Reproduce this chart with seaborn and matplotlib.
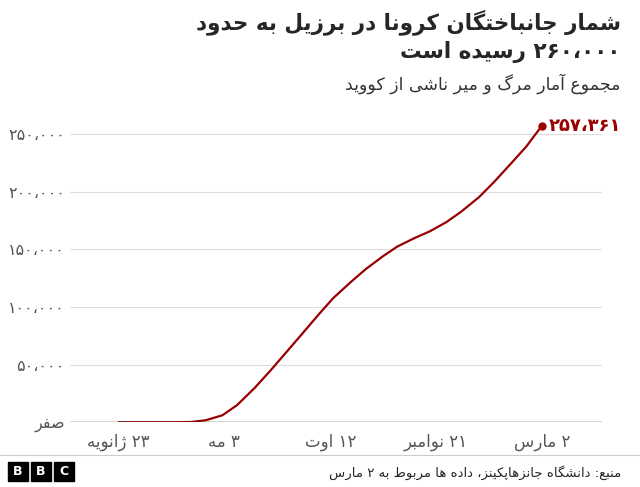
import matplotlib
matplotlib.use("Agg")
import matplotlib.pyplot as plt
import seaborn as sns
import pandas as pd

# ---- minimal Persian shaping + bidi ----
FORMS = {
 'ا':(0xFE8D,0xFE8E,None,None),'آ':(0xFE81,0xFE82,None,None),
 'ب':(0xFE8F,0xFE90,0xFE91,0xFE92),'پ':(0xFB56,0xFB57,0xFB58,0xFB59),
 'ت':(0xFE95,0xFE96,0xFE97,0xFE98),'ث':(0xFE99,0xFE9A,0xFE9B,0xFE9C),
 'ج':(0xFE9D,0xFE9E,0xFE9F,0xFEA0),'چ':(0xFB7A,0xFB7B,0xFB7C,0xFB7D),
 'ح':(0xFEA1,0xFEA2,0xFEA3,0xFEA4),'خ':(0xFEA5,0xFEA6,0xFEA7,0xFEA8),
 'د':(0xFEA9,0xFEAA,None,None),'ذ':(0xFEAB,0xFEAC,None,None),
 'ر':(0xFEAD,0xFEAE,None,None),'ز':(0xFEAF,0xFEB0,None,None),
 'ژ':(0xFB8A,0xFB8B,None,None),'س':(0xFEB1,0xFEB2,0xFEB3,0xFEB4),
 'ش':(0xFEB5,0xFEB6,0xFEB7,0xFEB8),'ص':(0xFEB9,0xFEBA,0xFEBB,0xFEBC),
 'ض':(0xFEBD,0xFEBE,0xFEBF,0xFEC0),'ط':(0xFEC1,0xFEC2,0xFEC3,0xFEC4),
 'ظ':(0xFEC5,0xFEC6,0xFEC7,0xFEC8),'ع':(0xFEC9,0xFECA,0xFECB,0xFECC),
 'غ':(0xFECD,0xFECE,0xFECF,0xFED0),'ف':(0xFED1,0xFED2,0xFED3,0xFED4),
 'ق':(0xFED5,0xFED6,0xFED7,0xFED8),'ک':(0xFB8E,0xFB8F,0xFB90,0xFB91),
 'گ':(0xFB92,0xFB93,0xFB94,0xFB95),'ل':(0xFEDD,0xFEDE,0xFEDF,0xFEE0),
 'م':(0xFEE1,0xFEE2,0xFEE3,0xFEE4),'ن':(0xFEE5,0xFEE6,0xFEE7,0xFEE8),
 'و':(0xFEED,0xFEEE,None,None),'ه':(0xFEE9,0xFEEA,0xFEEB,0xFEEC),
 'ی':(0xFBFC,0xFBFD,0xFBFE,0xFBFF),'ئ':(0xFE89,0xFE8A,0xFE8B,0xFE8C),
}
def dual(c): return c in FORMS and FORMS[c][2] is not None
def shape(s):
    out = []
    n = len(s)
    for i, c in enumerate(s):
        if c not in FORMS:
            out.append(c); continue
        p = s[i-1] if i > 0 else ''
        nx = s[i+1] if i+1 < n else ''
        jp = dual(p)
        jn = dual(c) and nx in FORMS
        f = FORMS[c]
        if jp and jn: g = f[3]
        elif jp: g = f[1]
        elif jn: g = f[2]
        else: g = f[0]
        out.append(chr(g))
    r = out[::-1]
    keep = set('۰۱۲۳۴۵۶۷۸۹0123456789،,')
    res, buf = [], []
    for ch in r:
        if ch in keep: buf.append(ch)
        else:
            res.extend(buf[::-1]); buf = []; res.append(ch)
    res.extend(buf[::-1])
    return ''.join(res)

# ---- data ----
dates = ["2020-01-23","2020-03-17","2020-04-01","2020-04-15","2020-05-01","2020-05-15",
         "2020-06-01","2020-06-15","2020-07-01","2020-07-15","2020-08-01","2020-08-15",
         "2020-09-01","2020-09-15","2020-10-01","2020-10-15","2020-11-01","2020-11-15",
         "2020-12-01","2020-12-15","2021-01-01","2021-01-15","2021-02-01","2021-02-15",
         "2021-03-02"]
deaths = [0,0,200,1700,6000,14800,29900,43900,60700,75500,93600,107900,122000,133000,
          143900,152500,160100,165700,173800,182800,195400,208200,225100,239200,257361]
ytick_vals = [0,50000,100000,150000,200000,250000]
ytick_labels = ["صفر","۵۰،۰۰۰","۱۰۰،۰۰۰","۱۵۰،۰۰۰","۲۰۰،۰۰۰","۲۵۰،۰۰۰"]
xtick_dates = ["2020-01-23","2020-05-03","2020-08-12","2020-11-21","2021-03-02"]
xtick_labels = ["۲۳ ژانویه","۳ مه","۱۲ اوت","۲۱ نوامبر","۲ مارس"]
title_lines = ["شمار جانباختگان کرونا در برزیل به حدود","۲۶۰،۰۰۰ رسیده است"]
subtitle = "مجموع آمار مرگ و میر ناشی از کووید"
last_label = "۲۵۷،۳۶۱"
source = "منبع: دانشگاه جانزهاپکینز، داده ها مربوط به ۲ مارس"

df = pd.DataFrame({"date": pd.to_datetime(dates), "deaths": deaths})

sns.set_style("white")
plt.rcParams['font.family'] = ['DejaVu Sans']
RED = "#990000"
fig = plt.figure(figsize=(6.4, 4.87), dpi=100)
ax = fig.add_axes([0.11, 0.133, 0.83, 0.667])
sns.lineplot(data=df, x="date", y="deaths", color=RED, lw=1.6, ax=ax)
ax.plot(df["date"].iloc[-1], deaths[-1], 'o', color=RED, ms=5)
ax.text(df["date"].iloc[-1] + pd.Timedelta(days=7), deaths[-1], shape(last_label),
        color=RED, fontsize=13, fontweight='bold', va='center', ha='left')

ax.set_ylim(0, 282000)
ax.set_xlim(pd.Timestamp("2019-12-08"), pd.Timestamp("2021-04-28"))
ax.set_yticks(ytick_vals)
ax.set_yticklabels([shape(t) for t in ytick_labels], fontsize=11.5, color="#555555")
ax.set_xticks(pd.to_datetime(xtick_dates))
ax.set_xticklabels([shape(t) for t in xtick_labels], fontsize=12, color="#555555")
ax.grid(axis='y', color="#dddddd", lw=0.8)
ax.axhline(0, color="#333333", lw=1)
for s in ax.spines.values(): s.set_visible(False)
ax.tick_params(axis='x', length=5, color="#333333", pad=3)
ax.tick_params(axis='y', length=0, pad=4)
ax.set_xlabel(""); ax.set_ylabel("")

fig.text(0.97, 0.955, shape(title_lines[0]), ha='right', va='center', fontsize=15.5, fontweight='bold')
fig.text(0.97, 0.893, shape(title_lines[1]), ha='right', va='center', fontsize=15.5, fontweight='bold')
fig.text(0.97, 0.828, shape(subtitle), ha='right', va='center', fontsize=12.5, color="#333333")
fig.add_artist(plt.Line2D([0.0, 1.0], [0.065, 0.065], color="#cccccc", lw=0.8))
fig.text(0.97, 0.03, shape(source), ha='right', va='center', fontsize=9.5)
for i, ch in enumerate("BBC"):
    x0 = 0.012 + i * 0.036
    fig.add_artist(plt.Rectangle((x0, 0.013), 0.031, 0.038, color="black", transform=fig.transFigure))
    fig.text(x0 + 0.0155, 0.032, ch, ha='center', va='center', color='white', fontsize=9, fontweight='bold')
fig.savefig("out.png", dpi=100)
